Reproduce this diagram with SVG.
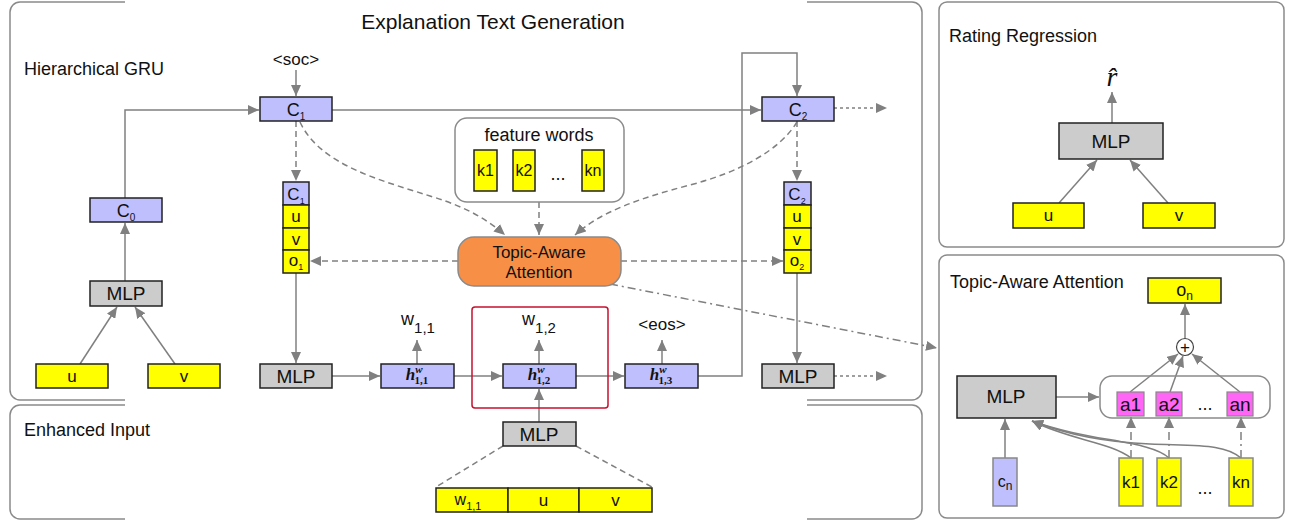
<svg xmlns="http://www.w3.org/2000/svg" width="1293" height="525" viewBox="0 0 1293 525">
<style>
text{font-family:"Liberation Sans",Arial,sans-serif;fill:#111}
.panel{fill:none;stroke:#8a8a8a;stroke-width:1.5}
.lav{fill:#bfbffd;stroke:#222;stroke-width:1.5}
.yel{fill:#ffff00;stroke:#222;stroke-width:1.5}
.gry{fill:#cccccc;stroke:#222;stroke-width:1.5}
.mag{fill:#ff66f5;stroke:#888;stroke-width:1.2}
.c{fill:none;stroke:#808080;stroke-width:1.5}
.a{marker-end:url(#ah)}
.dash{stroke-dasharray:6,4}
.dot{stroke-dasharray:3,3}
.dd{stroke-dasharray:8,4,2,4}
.lbl{text-anchor:middle}
.h{font-family:"Liberation Serif","DejaVu Serif",serif;font-weight:bold;font-style:italic}
</style>
<defs>
<marker id="ah" markerUnits="userSpaceOnUse" markerWidth="12" markerHeight="10" refX="11" refY="5" orient="auto">
<path d="M0,0 L11,5 L0,10 z" fill="#808080"/>
</marker>
</defs>

<g id="panels">
<path class="panel" d="M125,2 H20 A10,10 0 0 0 10,12 V390 A10,10 0 0 0 20,400 H125 M807,400 H912 A10,10 0 0 0 922,390 V12 A10,10 0 0 0 912,2 H807"/>
<path class="panel" d="M125,405 H20 A10,10 0 0 0 10,415 V509 A10,10 0 0 0 20,519 H125 M807,519 H912 A10,10 0 0 0 922,509 V415 A10,10 0 0 0 912,405 H807"/>
<rect class="panel" x="939" y="2" width="345" height="245" rx="8"/>
<rect class="panel" x="939" y="255" width="345" height="263" rx="8"/>
<text x="493" y="29" class="lbl" font-size="21">Explanation Text Generation</text>
<text x="24" y="75" font-size="18">Hierarchical GRU</text>
<text x="24" y="436" font-size="18">Enhanced Input</text>
<text x="949" y="42" font-size="18">Rating Regression</text>
<text x="950" y="288" font-size="18">Topic-Aware Attention</text>
</g>

<g id="connectors">
<path class="c a" d="M296,70 V96"/>
<path class="c a" d="M125,198 V110 H259"/>
<path class="c a" d="M125,281 V223"/>
<path class="c a" d="M80,364 L117,307"/>
<path class="c a" d="M175,364 L135,307"/>
<path class="c a" d="M332,110 H761"/>
<path class="c a dot" d="M834,108 H887"/>
<path class="c a dash" d="M296,121 V181"/>
<path class="c a dash" d="M300,122 C320,165 380,180 430,196 C470,208 490,222 505,235"/>
<path class="c a dash" d="M797,122 C780,150 740,172 690,185 C640,198 600,212 575,235"/>
<path class="c a dash" d="M539,202 V235"/>
<path class="c a dash" d="M797,121 V181"/>
<path class="c a dash" d="M458,261 H310"/>
<path class="c a dash" d="M621,261 H783"/>
<path class="c a dd" d="M610,284 L937,348"/>
<path class="c a" d="M296,273 V363"/>
<path class="c a" d="M332,376 H380"/>
<path class="c a" d="M454,376 H502"/>
<path class="c a" d="M576,376 H624"/>
<path class="c a" d="M698,376 H742 V53 H797 V96"/>
<path class="c a" d="M417,364 V340"/>
<path class="c a" d="M539,364 V340"/>
<path class="c a" d="M662,364 V340"/>
<path class="c a" d="M539,422 V389"/>
<path class="c dash" d="M503,446 L436,487"/>
<path class="c dash" d="M576,446 L652,487"/>
<path class="c a" d="M797,273 V363"/>
<path class="c a dot" d="M834,376 H887"/>
<path class="c a" d="M1112,123 V92"/>
<path class="c a" d="M1059,203 L1097,160"/>
<path class="c a" d="M1168,203 L1130,160"/>
<path class="c a" d="M1185,338 V304"/>
<path class="c a" d="M1130,392 L1178,354"/>
<path class="c a" d="M1170,392 L1183,356"/>
<path class="c a" d="M1240,392 L1192,354"/>
<path class="c a" d="M1056,397 H1099"/>
<path class="c a" d="M1005,458 V419"/>
<path class="c a dd" d="M1131,458 V417"/>
<path class="c a dd" d="M1169,458 V417"/>
<path class="c a dd" d="M1241,458 V417"/>
<path class="c a" d="M1131,458 C1110,442 1070,440 1032,421"/>
<path class="c a" d="M1169,458 C1150,440 1090,442 1032,421"/>
<path class="c a" d="M1241,458 C1225,444 1200,446 1150,444 C1100,442 1060,432 1032,421"/>
</g>

<g id="soc"><text x="296" y="65" class="lbl" font-size="17">&lt;soc&gt;</text></g>
<g id="C1"><rect class="lav" x="260" y="97" width="72" height="24"/><text x="296" y="116" class="lbl" font-size="18">C<tspan font-size="10" dy="4">1</tspan></text></g>
<g id="C0"><rect class="lav" x="90" y="198" width="72" height="24"/><text x="126" y="217" class="lbl" font-size="18">C<tspan font-size="10" dy="4">0</tspan></text></g>
<g id="C2"><rect class="lav" x="762" y="97" width="72" height="24"/><text x="798" y="116" class="lbl" font-size="18">C<tspan font-size="10" dy="4">2</tspan></text></g>

<g id="stack1">
<rect class="lav" x="283" y="182" width="26" height="23"/>
<rect class="yel" x="283" y="205" width="26" height="23"/>
<rect class="yel" x="283" y="228" width="26" height="22"/>
<rect class="yel" x="283" y="250" width="26" height="23"/>
<text x="296" y="200" class="lbl" font-size="17">C<tspan font-size="9" dy="4">1</tspan></text>
<text x="296" y="222" class="lbl" font-size="17">u</text>
<text x="296" y="245" class="lbl" font-size="17">v</text>
<text x="296" y="266" class="lbl" font-size="17">o<tspan font-size="9" dy="4">1</tspan></text>
</g>
<g id="stack2">
<rect class="lav" x="784" y="182" width="27" height="23"/>
<rect class="yel" x="784" y="205" width="27" height="23"/>
<rect class="yel" x="784" y="228" width="27" height="22"/>
<rect class="yel" x="784" y="250" width="27" height="23"/>
<text x="797" y="200" class="lbl" font-size="17">C<tspan font-size="9" dy="4">2</tspan></text>
<text x="797" y="222" class="lbl" font-size="17">u</text>
<text x="797" y="245" class="lbl" font-size="17">v</text>
<text x="797" y="266" class="lbl" font-size="17">o<tspan font-size="9" dy="4">2</tspan></text>
</g>

<g id="feature-words">
<rect x="455" y="118" width="169" height="84" rx="12" fill="#fff" stroke="#8a8a8a" stroke-width="1.5"/>
<text x="539" y="141" class="lbl" font-size="18">feature words</text>
<rect class="yel" x="474" y="150" width="23" height="41"/><text x="485.5" y="176" class="lbl" font-size="16">k1</text>
<rect class="yel" x="513" y="150" width="22" height="41"/><text x="524" y="176" class="lbl" font-size="16">k2</text>
<text x="558" y="180" class="lbl" font-size="18">...</text>
<rect class="yel" x="582" y="150" width="22" height="41"/><text x="593" y="176" class="lbl" font-size="16">kn</text>
</g>

<g id="topic-attention">
<rect x="458" y="237" width="163" height="49" rx="16" fill="#f79046" stroke="#8a8a8a" stroke-width="1.5"/>
<text x="539" y="258" class="lbl" font-size="17">Topic-Aware</text>
<text x="539" y="278" class="lbl" font-size="17">Attention</text>
</g>

<g id="mlp-left"><rect class="gry" x="90" y="281" width="72" height="25"/><text x="126" y="300" class="lbl" font-size="19">MLP</text></g>
<g id="u-left"><rect class="yel" x="36" y="364" width="72" height="24"/><text x="72" y="382" class="lbl" font-size="17">u</text></g>
<g id="v-left"><rect class="yel" x="148" y="364" width="72" height="24"/><text x="184" y="382" class="lbl" font-size="17">v</text></g>
<g id="mlp-mid"><rect class="gry" x="260" y="364" width="72" height="24"/><text x="296" y="383" class="lbl" font-size="19">MLP</text></g>

<g id="h11"><rect class="lav" x="381" y="364" width="73" height="24"/><text x="417" y="380" class="lbl h" font-size="17">h<tspan font-size="11" dy="-7">w</tspan><tspan font-size="11" font-style="normal" dx="-8" dy="11">1,1</tspan></text></g>
<g id="h12"><rect class="lav" x="503" y="364" width="73" height="24"/><text x="539" y="380" class="lbl h" font-size="17">h<tspan font-size="11" dy="-7">w</tspan><tspan font-size="11" font-style="normal" dx="-8" dy="11">1,2</tspan></text></g>
<g id="h13"><rect class="lav" x="625" y="364" width="73" height="24"/><text x="661" y="380" class="lbl h" font-size="17">h<tspan font-size="11" dy="-7">w</tspan><tspan font-size="11" font-style="normal" dx="-8" dy="11">1,3</tspan></text></g>

<g id="w11"><text x="418" y="325" class="lbl" font-size="18">w<tspan font-size="15" dy="8">1,1</tspan></text></g>
<g id="w12"><text x="539" y="325" class="lbl" font-size="18">w<tspan font-size="15" dy="8">1,2</tspan></text></g>
<g id="eos"><text x="662" y="330" class="lbl" font-size="17">&lt;eos&gt;</text></g>

<g id="red-box"><rect x="472" y="307" width="136" height="101" rx="3" fill="none" stroke="#c8102e" stroke-width="1.5"/></g>

<g id="mlp-enh"><rect class="gry" x="503" y="422" width="73" height="24"/><text x="539" y="441" class="lbl" font-size="19">MLP</text></g>
<g id="input-row">
<rect class="yel" x="436" y="488" width="72" height="24"/><text x="468" y="505" class="lbl" font-size="16">w<tspan font-size="11" dy="5">1,1</tspan></text>
<rect class="yel" x="508" y="488" width="71" height="24"/><text x="543.5" y="506" class="lbl" font-size="17">u</text>
<rect class="yel" x="579" y="488" width="73" height="24"/><text x="615.5" y="506" class="lbl" font-size="17">v</text>
</g>
<g id="mlp-right"><rect class="gry" x="762" y="364" width="72" height="24"/><text x="798" y="383" class="lbl" font-size="19">MLP</text></g>

<g id="rating">
<text x="1112" y="86" class="lbl" font-style="italic" font-size="28" style="font-family:'Liberation Serif',serif">r̂</text>
<rect class="gry" x="1059" y="123" width="104" height="36"/><text x="1111" y="148" class="lbl" font-size="19">MLP</text>
<rect class="yel" x="1013" y="203" width="71" height="25"/><text x="1048.5" y="221" class="lbl" font-size="17">u</text>
<rect class="yel" x="1143" y="203" width="72" height="25"/><text x="1179" y="221" class="lbl" font-size="17">v</text>
</g>

<g id="attention-detail">
<rect class="yel" x="1148" y="278" width="73" height="25"/><text x="1184.5" y="296" class="lbl" font-size="18">o<tspan font-size="12" dy="4">n</tspan></text>
<circle cx="1185" cy="347" r="8.5" fill="#fff" stroke="#444" stroke-width="1.2"/><text x="1185" y="353" class="lbl" font-size="17">+</text>
<rect x="1100" y="376" width="170" height="42" rx="12" fill="none" stroke="#8a8a8a" stroke-width="1.5"/>
<rect class="mag" x="1117" y="392" width="27" height="24"/><text x="1130.5" y="411" class="lbl" font-size="19">a1</text>
<rect class="mag" x="1156" y="392" width="26" height="24"/><text x="1169" y="411" class="lbl" font-size="19">a2</text>
<text x="1205" y="410" class="lbl" font-size="18">...</text>
<rect class="mag" x="1227" y="392" width="26" height="24"/><text x="1240" y="411" class="lbl" font-size="19">an</text>
<rect class="gry" x="957" y="376" width="99" height="42"/><text x="1006" y="403" class="lbl" font-size="19">MLP</text>
<rect class="lav" x="993" y="458" width="24" height="48" style="stroke:#888"/><text x="1005" y="487" class="lbl" font-size="16">c<tspan font-size="12" dy="3">n</tspan></text>
<rect class="yel" x="1119" y="458" width="24" height="48" style="stroke:#888"/><text x="1131" y="488" class="lbl" font-size="17">k1</text>
<rect class="yel" x="1157" y="458" width="24" height="48" style="stroke:#888"/><text x="1169" y="488" class="lbl" font-size="17">k2</text>
<text x="1205" y="494" class="lbl" font-size="18">...</text>
<rect class="yel" x="1229" y="458" width="24" height="48" style="stroke:#888"/><text x="1241" y="488" class="lbl" font-size="17">kn</text>
</g>
</svg>
